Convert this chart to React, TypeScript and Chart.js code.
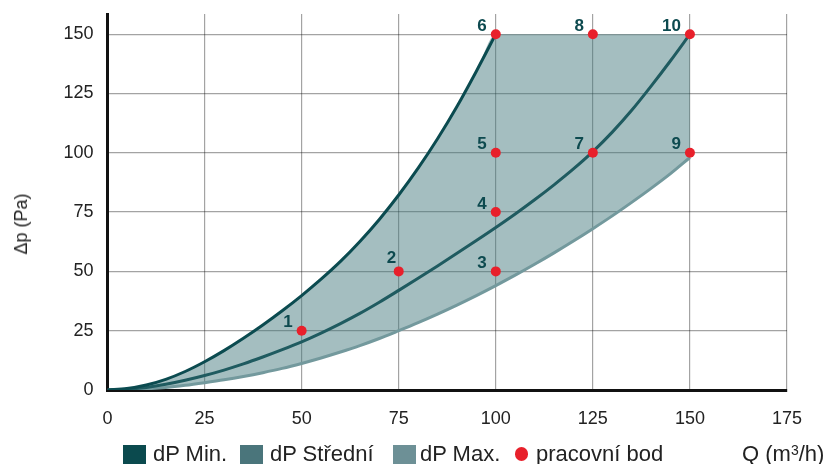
import { useEffect, useRef } from 'react';
import { Chart, registerables } from 'chart.js';

Chart.register(...registerables);

// ---- data ----
const qMin = [0, 5, 10, 15, 20, 25, 30, 35, 40, 45, 50, 55, 60, 65, 70, 75, 80, 85, 90, 95, 100];
const dpMin = [0, 0.6, 2.1, 4.5, 7.8, 11.9, 16.6, 21.8, 27.4, 33.4, 39.8, 46.7, 54.2, 62.6, 71.9, 82.2, 93.5, 105.9, 119.5, 134.4, 150];

const qFull = [0, 5, 10, 15, 20, 25, 30, 35, 40, 45, 50, 55, 60, 65, 70, 75, 80, 85, 90, 95, 100, 105, 110, 115, 120, 125, 130, 135, 140, 145, 150];
const dpMid = [0, 0.3, 1.1, 2.4, 4.1, 6.1, 8.4, 11, 13.9, 17, 20.3, 24, 28, 32.3, 37, 42, 47.1, 52.3, 57.6, 63, 68.5, 74.2, 80.2, 86.5, 93.2, 100.5, 108.7, 117.9, 128.1, 138.8, 150];
const dpMax = [0, 0.15, 0.5, 1.1, 2, 3.1, 4.3, 5.7, 7.3, 9.1, 11.2, 13.5, 16, 18.7, 21.7, 25, 28.4, 32, 35.8, 39.8, 44, 48.4, 53, 57.8, 62.8, 68, 73.4, 79.1, 85, 91.2, 98];
const zoneTop = 150;

const ptQ = [50, 75, 100, 100, 100, 100, 125, 125, 150, 150];
const ptDp = [25, 50, 50, 75, 100, 150, 100, 150, 100, 150];
const ptLabels = ['1', '2', '3', '4', '5', '6', '7', '8', '9', '10'];

const xTicks = [0, 25, 50, 75, 100, 125, 150, 175];
const yTicks = [0, 25, 50, 75, 100, 125, 150];
const yTop = 158.5;

const seriesNames = ['dP Min.', 'dP Střední', 'dP Max.', 'pracovní bod'];
const yTitle = 'Δp (Pa)';

// ---- styles ----
const FONT = '"Liberation Sans", Arial, Helvetica, sans-serif';
const TEXT = '#222222';
const LABEL_COLOR = '#0d4a4f';
const RED = '#e8202b';

const pointLabelPlugin = {
  id: 'pointLabels',
  afterDatasetsDraw(chart: any) {
    const meta = chart.getDatasetMeta(0);
    const ctx = chart.ctx;
    ctx.save();
    ctx.font = `bold 17px ${FONT}`;
    ctx.fillStyle = LABEL_COLOR;
    ctx.textAlign = 'right';
    ctx.textBaseline = 'alphabetic';
    meta.data.forEach((el: any, i: number) => {
      const special = i === 1;
      const dx = special ? -2.5 : -9;
      const dy = special ? -8 : -3.5;
      ctx.fillText(ptLabels[i], el.x + dx, el.y + dy);
    });
    ctx.restore();
  },
};

export default function App() {
  const ref = useRef<HTMLCanvasElement | null>(null);

  useEffect(() => {
    if (!ref.current) return;
    const minPts = qMin.map((q, i) => ({ x: q, y: dpMin[i] }));
    const midPts = qFull.map((q, i) => ({ x: q, y: dpMid[i] }));
    const maxPts = qFull.map((q, i) => ({ x: q, y: dpMax[i] }));
    const topPts = qFull.map((q, i) => ({ x: q, y: i < dpMin.length ? dpMin[i] : zoneTop }));
    const pts = ptQ.map((q, i) => ({ x: q, y: ptDp[i] }));

    const chart = new Chart(ref.current, {
      type: 'line',
      data: {
        datasets: [
          {
            label: seriesNames[3],
            type: 'scatter',
            data: pts,
            backgroundColor: RED,
            borderColor: RED,
            pointRadius: 5,
            pointBorderWidth: 0,
            showLine: false,
            order: 0,
          } as any,
          {
            label: seriesNames[0],
            data: minPts,
            borderColor: '#0b4b50',
            borderWidth: 3,
            pointRadius: 0,
            fill: false,
            cubicInterpolationMode: 'monotone',
            order: 1,
          },
          {
            label: seriesNames[1],
            data: midPts,
            borderColor: '#1f5b60',
            borderWidth: 3,
            pointRadius: 0,
            fill: false,
            cubicInterpolationMode: 'monotone',
            order: 2,
          },
          {
            label: seriesNames[2],
            data: maxPts,
            borderColor: '#73999d',
            borderWidth: 3,
            pointRadius: 0,
            fill: false,
            cubicInterpolationMode: 'monotone',
            order: 3,
          },
          {
            label: 'zone',
            data: topPts,
            borderWidth: 0,
            borderColor: 'rgba(0,0,0,0)',
            pointRadius: 0,
            backgroundColor: 'rgba(62,116,122,0.47)',
            fill: { target: 3 },
            cubicInterpolationMode: 'monotone',
            order: 4,
          } as any,
        ],
      },
      options: {
        responsive: false,
        animation: false,
        devicePixelRatio: 1,
        layout: { padding: { left: 0, right: 43, top: 14, bottom: 0 } },
        plugins: {
          legend: { display: false },
          tooltip: { enabled: false },
        },
        scales: {
          x: {
            type: 'linear',
            min: xTicks[0],
            max: xTicks[xTicks.length - 1],
            afterBuildTicks: (s: any) => {
              s.ticks = xTicks.map((v) => ({ value: v }));
            },
            ticks: {
              font: { family: FONT, size: 18 },
              color: TEXT,
              padding: 18,
            },
            grid: { color: 'rgba(0,0,0,0.36)', lineWidth: 1.2, drawTicks: false },
            border: { color: '#111111', width: 3 },
            afterFit: (s: any) => {
              s.height = 74;
              s.paddingLeft = 0;
              s.paddingRight = 0;
            },
          },
          y: {
            type: 'linear',
            min: 0,
            max: yTop,
            afterBuildTicks: (s: any) => {
              s.ticks = yTicks.map((v) => ({ value: v }));
            },
            ticks: {
              font: { family: FONT, size: 18 },
              color: TEXT,
              padding: 14,
            },
            grid: { color: 'rgba(0,0,0,0.36)', lineWidth: 1.2, drawTicks: false },
            border: { color: '#111111', width: 3 },
            title: { display: false },
            afterFit: (s: any) => {
              s.width = 107.5;
              s.paddingTop = 0;
              s.paddingBottom = 0;
            },
          },
        },
      },
      plugins: [pointLabelPlugin],
    });
    return () => chart.destroy();
  }, []);

  const textStyle = (left: number): any => ({
    position: 'absolute',
    left,
    top: 442.5,
    fontSize: 22,
    lineHeight: '22px',
    color: TEXT,
    whiteSpace: 'nowrap',
  });
  const sq = (left: number, color: string): any => ({
    position: 'absolute',
    left,
    top: 445,
    width: 23,
    height: 23,
    background: color,
  });

  return (
    <div
      style={{
        position: 'absolute',
        left: 0,
        top: 0,
        width: 830,
        height: 464,
        background: '#fff',
        overflow: 'hidden',
        fontFamily: FONT,
      }}
    >
      <canvas ref={ref} width={830} height={464} style={{ position: 'absolute', left: 0, top: 0 }} />
      <div
        style={{
          position: 'absolute',
          left: 21,
          top: 224,
          transform: 'translate(-50%, -50%) rotate(-90deg)',
          fontSize: 18,
          lineHeight: '20px',
          color: TEXT,
          whiteSpace: 'nowrap',
        }}
      >
        {yTitle}
      </div>
      <div style={sq(123, '#0b4a4e')} />
      <div style={textStyle(153)}>{seriesNames[0]}</div>
      <div style={sq(240, '#4a757b')} />
      <div style={textStyle(270)}>{seriesNames[1]}</div>
      <div style={sq(393, '#6d9096')} />
      <div style={textStyle(420)}>{seriesNames[2]}</div>
      <div
        style={{
          position: 'absolute',
          left: 514.5,
          top: 447,
          width: 13.5,
          height: 13.5,
          borderRadius: '50%',
          background: RED,
        }}
      />
      <div style={textStyle(536)}>{seriesNames[3]}</div>
      <div style={textStyle(742)}>
        Q (m<sup style={{ fontSize: 14, verticalAlign: 'top', lineHeight: '14px' }}>3</sup>/h)
      </div>
    </div>
  );
}
